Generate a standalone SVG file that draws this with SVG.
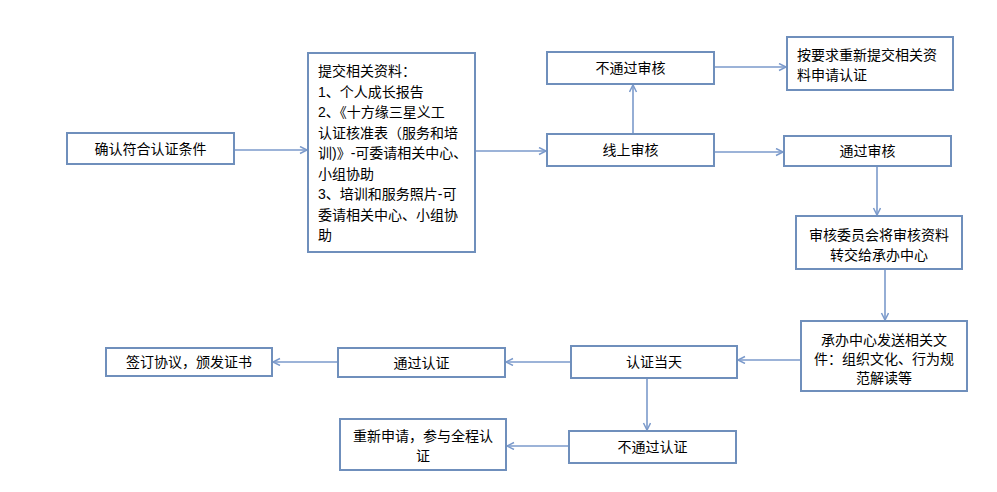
<svg xmlns="http://www.w3.org/2000/svg" width="997" height="492" viewBox="0 0 997 492">
<defs>
<style>
.box{fill:#fff;stroke:#6F8FBC;stroke-width:2}
.t{font-family:"Liberation Sans","Noto Sans CJK SC",sans-serif;font-size:14px;fill:#000}
.c{text-anchor:middle}
.ln{fill:none;stroke:#7B9ACB;stroke-width:1.6}
</style>
<marker id="ah" markerWidth="10" markerHeight="10" refX="8" refY="4" orient="auto" markerUnits="userSpaceOnUse">
<path d="M1,0.5 L8,4 L1,7.5" fill="none" stroke="#7B9ACB" stroke-width="1.5"/>
</marker>
</defs>
<rect width="997" height="492" fill="#fff"/>
<g id="connectors">
<line class="ln" x1="235" y1="150" x2="307" y2="150" marker-end="url(#ah)"/>
<line class="ln" x1="476" y1="151" x2="546" y2="151" marker-end="url(#ah)"/>
<line class="ln" x1="633" y1="134" x2="633" y2="85" marker-end="url(#ah)"/>
<line class="ln" x1="715" y1="67" x2="786" y2="67" marker-end="url(#ah)"/>
<line class="ln" x1="715" y1="152" x2="783" y2="152" marker-end="url(#ah)"/>
<line class="ln" x1="877" y1="167" x2="877" y2="215" marker-end="url(#ah)"/>
<line class="ln" x1="885" y1="270" x2="885" y2="320" marker-end="url(#ah)"/>
<line class="ln" x1="800" y1="360" x2="738" y2="360" marker-end="url(#ah)"/>
<line class="ln" x1="570" y1="362" x2="506" y2="362" marker-end="url(#ah)"/>
<line class="ln" x1="337" y1="362" x2="273" y2="362" marker-end="url(#ah)"/>
<line class="ln" x1="647" y1="379" x2="647" y2="430" marker-end="url(#ah)"/>
<line class="ln" x1="568" y1="446" x2="507" y2="446" marker-end="url(#ah)"/>
</g>
<g id="n1"><rect class="box" x="67" y="133" width="167" height="31"/><text class="t c" x="150.5" y="154">确认符合认证条件</text></g>
<g id="n2"><rect class="box" x="308" y="53" width="167" height="199"/>
<text class="t" x="318">
<tspan x="318" y="76">提交相关资料：</tspan>
<tspan x="318" y="96.5">1、个人成长报告</tspan>
<tspan x="318" y="117">2、《十方缘三星义工</tspan>
<tspan x="318" y="137.5">认证核准表（服务和培</tspan>
<tspan x="318" y="158">训)》-可委请相关中心、</tspan>
<tspan x="318" y="178.5">小组协助</tspan>
<tspan x="318" y="199">3、培训和服务照片-可</tspan>
<tspan x="318" y="219.5">委请相关中心、小组协</tspan>
<tspan x="318" y="240">助</tspan>
</text></g>
<g id="n3"><rect class="box" x="547" y="52" width="167" height="32"/><text class="t c" x="630.5" y="73">不通过审核</text></g>
<g id="n4"><rect class="box" x="787" y="37" width="166" height="53"/>
<text class="t"><tspan x="797" y="60">按要求重新提交相关资</tspan><tspan x="797" y="80">料申请认证</tspan></text></g>
<g id="n5"><rect class="box" x="547" y="134" width="167" height="32"/><text class="t c" x="630.5" y="155">线上审核</text></g>
<g id="n6"><rect class="box" x="784" y="136" width="167" height="30"/><text class="t c" x="867.5" y="156">通过审核</text></g>
<g id="n7"><rect class="box" x="796" y="216" width="166" height="53"/>
<text class="t c"><tspan x="879" y="240">审核委员会将审核资料</tspan><tspan x="879" y="260">转交给承办中心</tspan></text></g>
<g id="n8"><rect class="box" x="801" y="321" width="166" height="70"/>
<text class="t c"><tspan x="884" y="345">承办中心发送相关文</tspan><tspan x="884" y="364">件：组织文化、行为规</tspan><tspan x="884" y="383">范解读等</tspan></text></g>
<g id="n9"><rect class="box" x="571" y="346" width="166" height="32"/><text class="t c" x="654" y="367">认证当天</text></g>
<g id="n10"><rect class="box" x="338" y="348" width="167" height="29"/><text class="t c" x="421.5" y="368">通过认证</text></g>
<g id="n11"><rect class="box" x="106" y="348" width="166" height="28"/><text class="t c" x="189" y="367">签订协议，颁发证书</text></g>
<g id="n12"><rect class="box" x="569" y="431" width="167" height="32"/><text class="t c" x="652.5" y="452">不通过认证</text></g>
<g id="n13"><rect class="box" x="340" y="419" width="166" height="51"/>
<text class="t c"><tspan x="423" y="441">重新申请，参与全程认</tspan><tspan x="423" y="461">证</tspan></text></g>
</svg>
